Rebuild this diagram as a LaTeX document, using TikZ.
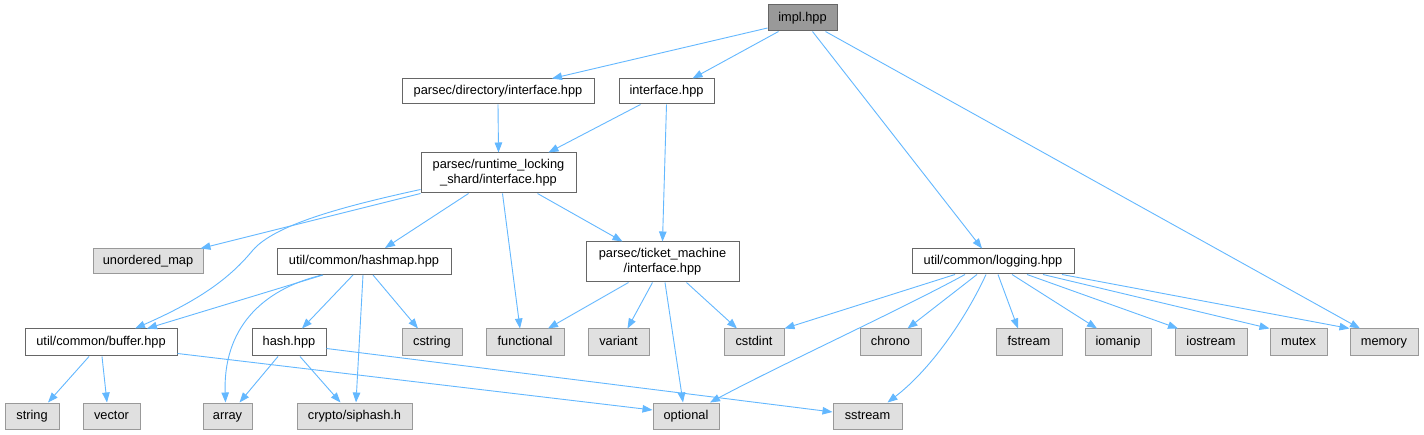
\documentclass[tikz,border=0pt]{standalone}
\usepackage{fontspec}
\setmainfont{Liberation Sans}
\usetikzlibrary{arrows.meta,calc}
\definecolor{edgeblue}{HTML}{63B8FF}
\definecolor{boxborder}{HTML}{666666}
\definecolor{sysborder}{HTML}{999999}
\definecolor{sysfill}{HTML}{E0E0E0}
\definecolor{rootfill}{HTML}{999999}
\tikzset{
  base/.style={draw, line width=1pt, inner sep=0pt, minimum height=26pt,
    font=\fontsize{12.8}{15}\selectfont, align=center, text=black},
  oneline/.style={text height=9.2pt, text depth=2.6pt},
  filebox2/.style={base, draw=boxborder, fill=white},
  filebox/.style={filebox2, oneline},
  sysbox/.style={base, oneline, draw=sysborder, fill=sysfill},
  rootbox/.style={base, oneline, draw=boxborder, fill=rootfill},
  dep/.style={draw=edgeblue, line width=0.9pt,
    -{Triangle[length=10pt,width=7.5pt,fill=edgeblue]}},
}
\begin{document}
\begin{tikzpicture}[x=1pt,y=-1pt]
\useasboundingbox (0,0) rectangle (1424,435);
\fill[white] (0,0) rectangle (1424,435);
% nodes
\node[rootbox, minimum width=69pt] (impl) at (802.5,18) {impl.hpp};
\node[filebox, minimum width=192pt, minimum height=25pt] (dir) at (498,91.5) {parsec/directory/interface.hpp};
\node[filebox, minimum width=95pt, minimum height=25pt] (iface) at (666.5,91.5) {interface.hpp};
\node[filebox2, minimum width=155pt, minimum height=40pt] (rls) at (498.5,173) {parsec/runtime\_locking\\\_shard/interface.hpp};
\node[sysbox, minimum width=110pt, minimum height=25pt] (umap) at (148,261.5) {unordered\_map};
\node[filebox, minimum width=174pt] (hashmap) at (364,261.5) {util/common/hashmap.hpp};
\node[filebox, minimum width=152pt, minimum height=27pt] (buffer) at (101,342.5) {util/common/buffer.hpp};
\node[filebox, minimum width=74pt, minimum height=27pt] (hash) at (289,342.5) {hash.hpp};
\node[sysbox, minimum width=60pt, minimum height=27pt] (cstring) at (432,342.5) {cstring};
\node[sysbox, minimum width=54pt] (string) at (32,416) {string};
\node[sysbox, minimum width=57pt] (vector) at (111.5,416) {vector};
\node[sysbox, minimum width=49pt] (array) at (227.5,416) {array};
\node[sysbox, minimum width=115pt] (siphash) at (354.5,416) {crypto/siphash.h};
\node[filebox2, minimum width=153pt, minimum height=40pt] (ticket) at (662.5,262) {parsec/ticket\_machine\\/interface.hpp};
\node[sysbox, minimum width=78pt, minimum height=27pt] (functional) at (525,342.5) {functional};
\node[sysbox, minimum width=61pt, minimum height=27pt] (variant) at (618.5,342.5) {variant};
\node[sysbox, minimum width=60pt, minimum height=27pt] (cstdint) at (754,342.5) {cstdint};
\node[sysbox, minimum width=61pt, minimum height=27pt] (chrono) at (890.5,342.5) {chrono};
\node[sysbox, minimum width=66pt] (optional) at (686,416) {optional};
\node[sysbox, minimum width=69pt] (sstream) at (867.5,416) {sstream};
\node[filebox, minimum width=162pt, minimum height=25pt] (logging) at (993,261.5) {util/common/logging.hpp};
\node[sysbox, minimum width=66pt, minimum height=27pt] (fstream) at (1029,342.5) {fstream};
\node[sysbox, minimum width=66pt, minimum height=27pt] (iomanip) at (1118,342.5) {iomanip};
\node[sysbox, minimum width=72pt, minimum height=27pt] (iostream) at (1211,342.5) {iostream};
\node[sysbox, minimum width=57pt, minimum height=27pt] (mutex) at (1298.5,342.5) {mutex};
\node[sysbox, minimum width=68pt, minimum height=27pt] (memory) at (1384,342.5) {memory};
% edges from impl
\draw[dep] ($(impl.west)+(0,10)$) -- ($(dir.north)+(54,0)$);
\draw[dep] ($(impl.south)+(-24,0)$) -- ($(iface.north)+(26,0)$);
\draw[dep] ($(impl.south)+(10,0)$) -- ($(logging.north)+(-11,0)$);
\draw[dep] ($(impl.south)+(23,0)$) -- ($(memory.north)+(-24,0)$);
% dir, iface
\draw[dep] (dir.south) -- (rls.north);
\draw[dep] ($(iface.south)+(-26,0)$) -- ($(rls.north)+(50,0)$);
\draw[dep] (iface.south) -- (ticket.north);
% rls
\draw[dep] ($(rls.south west)+(0,0)$) -- ($(umap.north east)+(-3,0)$);
\draw[dep] ($(rls.south west)+(0,-4)$) .. controls (340,207) and (275,225) .. (253,250)
  .. controls (230,278) and (200,300) .. ($(buffer.north)+(34,0)$);
\draw[dep] ($(rls.south)+(-30,0)$) -- ($(hashmap.north)+(21,0)$);
\draw[dep] ($(rls.south)+(4,0)$) -- ($(functional.north)+(-5,0)$);
\draw[dep] ($(rls.south)+(39,0)$) -- ($(ticket.north)+(-40,0)$);
% hashmap
\draw[dep] ($(hashmap.south)+(-41,0)$) -- ($(buffer.north)+(46,0)$);
\draw[dep] ($(hashmap.south)+(-42,0)$) .. controls (260,290) and (223,330) .. ($(array.north)+(-2,0)$);
\draw[dep] ($(hashmap.south)+(-11,0)$) -- ($(hash.north)+(13,0)$);
\draw[dep] ($(hashmap.south)+(-1,0)$) -- ($(siphash.north)+(1.5,0)$);
\draw[dep] ($(hashmap.south)+(9,0)$) -- ($(cstring.north)+(-14,0)$);
% buffer
\draw[dep] ($(buffer.south)+(-12,0)$) -- ($(string.north)+(16,0)$);
\draw[dep] ($(buffer.south)+(1,0)$) -- ($(vector.north)+(-4.5,0)$);
\draw[dep] ($(buffer.south east)+(0,-3)$) -- ($(optional.west)+(0,-6)$);
% hash
\draw[dep] ($(hash.south)+(-11,0)$) -- ($(array.north)+(12,0)$);
\draw[dep] ($(hash.south)+(11,0)$) -- ($(siphash.north)+(-14,0)$);
\draw[dep] ($(hash.east)+(0,6)$) -- ($(sstream.west)+(0,-4)$);
% ticket
\draw[dep] ($(ticket.south)+(-34,0)$) -- ($(functional.north)+(23,0)$);
\draw[dep] ($(ticket.south)+(-10,0)$) -- ($(variant.north)+(9,0)$);
\draw[dep] ($(ticket.south)+(2.5,0)$) -- ($(optional.north)+(-3,0)$);
\draw[dep] ($(ticket.south)+(24,0)$) -- ($(cstdint.north)+(-17,0)$);
% logging
\draw[dep] ($(logging.south)+(-38,0)$) -- (cstdint.north east);
\draw[dep] ($(logging.south)+(-28,0)$) .. controls (900,310) and (780,365) .. ($(optional.north)+(24,0)$);
\draw[dep] ($(logging.south)+(-16,0)$) -- ($(chrono.north)+(17,0)$);
\draw[dep] ($(logging.south)+(-7,0)$) .. controls (965,320) and (930,370) .. ($(sstream.north)+(20,0)$);
\draw[dep] ($(logging.south)+(5,0)$) -- ($(fstream.north)+(-11,0)$);
\draw[dep] ($(logging.south)+(19,0)$) -- ($(iomanip.north)+(-21,0)$);
\draw[dep] ($(logging.south)+(34,0)$) -- ($(iostream.north)+(-33,0)$);
\draw[dep] ($(logging.south)+(50,0)$) -- (mutex.north west);
\draw[dep] ($(logging.south)+(69,0)$) -- (memory.north west);
\end{tikzpicture}
\end{document}
